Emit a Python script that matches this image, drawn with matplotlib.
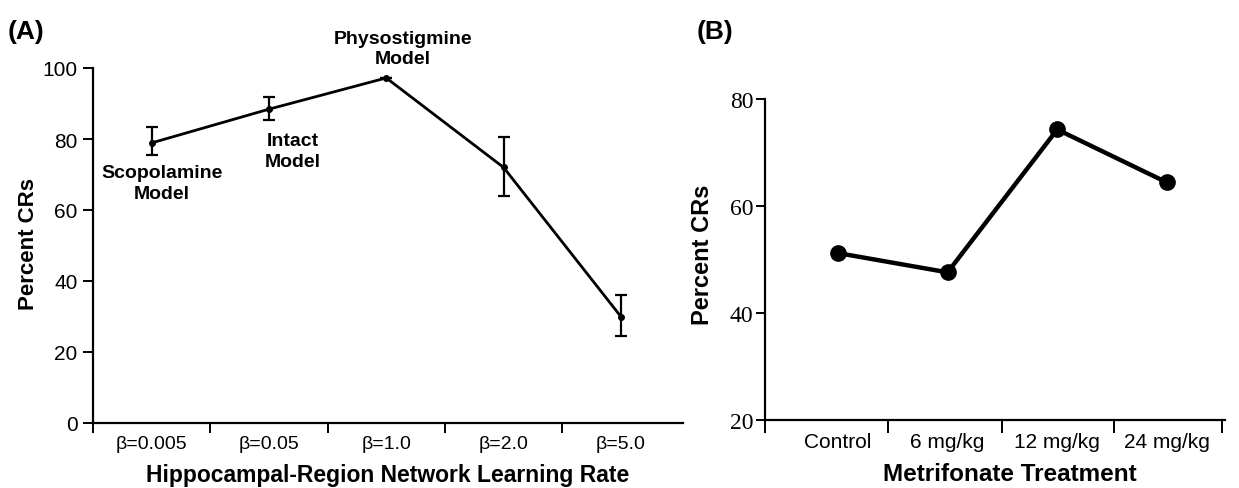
import matplotlib
matplotlib.use("Agg")
import matplotlib.pyplot as plt
import numpy as np

plt.rcParams['font.family'] = ['Liberation Sans', 'DejaVu Sans']

# Panel A data
a_labels = ["β=0.005", "β=0.05", "β=1.0", "β=2.0", "β=5.0"]
a_values = [78.9, 88.4, 97.2, 72.0, 30.0]
a_err_low = [3.5, 3.0, 0.0, 8.0, 5.5]
a_err_high = [4.5, 3.3, 0.0, 8.5, 6.0]
a_yticks = [0, 20, 40, 60, 80, 100]

# Panel B data
b_labels = ["Control", "6 mg/kg", "12 mg/kg", "24 mg/kg"]
b_values = [51.2, 47.6, 74.3, 64.4]
b_yticks = [20, 40, 60, 80]

fig = plt.figure(figsize=(12.39, 4.89), dpi=100)

# ---------- Panel A ----------
axA = fig.add_axes([93/1239, 1-424/489, (683-93)/1239, (424-69)/489])
xa = np.arange(len(a_labels))
axA.errorbar(xa, a_values, yerr=[a_err_low, a_err_high], color='black',
             lw=2.0, elinewidth=1.6, capsize=4, capthick=1.6,
             marker='o', markersize=4)
axA.set_xlim(-0.5, 4.53)
axA.set_ylim(0, 100)
axA.set_yticks(a_yticks)
axA.set_xticks(np.arange(-0.5, 4.0, 1.0))
axA.set_xticklabels([])
axA.set_xticks(xa, minor=True)
axA.set_xticklabels(a_labels, minor=True, fontsize=14)
axA.tick_params(axis='x', which='minor', length=0, pad=9)
axA.tick_params(axis='x', which='major', direction='out', length=7, width=1.4)
axA.tick_params(axis='y', direction='out', length=7, width=1.4, labelsize=15,
                pad=4)
for s in ['top', 'right']:
    axA.spines[s].set_visible(False)
for s in ['left', 'bottom']:
    axA.spines[s].set_linewidth(1.6)
axA.set_ylabel("Percent CRs", fontsize=16, fontweight='bold')
axA.yaxis.label.set_va('center')
axA.yaxis.set_label_coords(-0.110, 0.507)
axA.set_xlabel("Hippocampal-Region Network Learning Rate", fontsize=16.5,
               fontweight='bold')
axA.xaxis.label.set_va('center')
axA.xaxis.set_label_coords(0.5, -0.144)

axA.text(0.09, 67.6, "Scopolamine\nModel", ha='center', va='center',
         fontsize=14, fontweight='bold', linespacing=1.25)
axA.text(1.2, 76.6, "Intact\nModel", ha='center', va='center', fontsize=14,
         fontweight='bold', linespacing=1.25)
axA.text(2.14, 105.4, "Physostigmine\nModel", ha='center', va='center',
         fontsize=14, fontweight='bold', linespacing=1.25, clip_on=False)

fig.text(8/1239, 1-32/489, "(A)", fontsize=19, fontweight='bold', va='center')

# ---------- Panel B ----------
axB = fig.add_axes([765/1239, 1-421/489, (1225-765)/1239, (421-100)/489])
xb = np.arange(len(b_labels))
axB.plot(xb, b_values, color='black', lw=3.2, marker='o', markersize=11)
axB.set_xlim(-0.665, 3.53)
axB.set_ylim(20, 80)
axB.set_yticks(b_yticks)
axB.set_yticklabels([str(v) for v in b_yticks], family='Liberation Serif',
                    fontsize=17)
axB.set_xticks([-0.665, 0.456, 1.495, 2.516, 3.5])
axB.set_xticklabels([])
axB.set_xticks(xb, minor=True)
axB.set_xticklabels(b_labels, minor=True, fontsize=15)
axB.tick_params(axis='x', which='minor', length=0, pad=9)
axB.tick_params(axis='x', which='major', direction='out', length=9, width=1.4)
axB.tick_params(axis='y', direction='out', length=6.5, width=1.4, pad=2)
for s in ['top', 'right']:
    axB.spines[s].set_visible(False)
for s in ['left', 'bottom']:
    axB.spines[s].set_linewidth(1.6)
axB.set_ylabel("Percent CRs", fontsize=17, fontweight='bold')
axB.yaxis.label.set_va('center')
axB.yaxis.set_label_coords(-0.135, 0.517)
axB.set_xlabel("Metrifonate Treatment", fontsize=17.5, fontweight='bold')
axB.xaxis.label.set_va('center')
axB.xaxis.set_label_coords(0.533, -0.168)

fig.text(697/1239, 1-32/489, "(B)", fontsize=19, fontweight='bold', va='center')

fig.savefig("out.png", dpi=100)
